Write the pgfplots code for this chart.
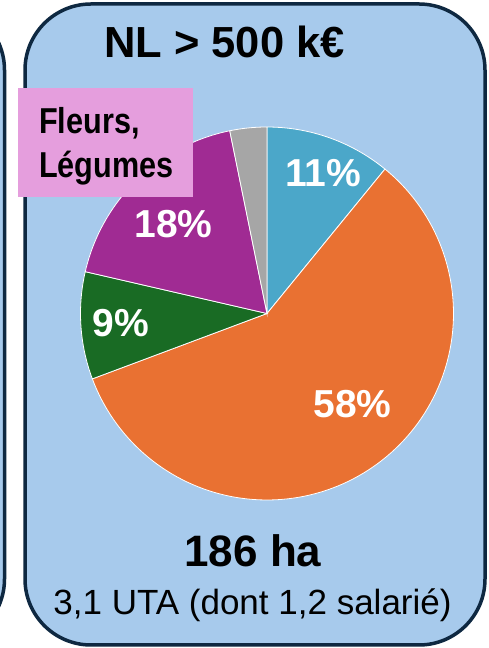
\documentclass[border=0pt]{standalone}
\usepackage{pgfplots}
\pgfplotsset{compat=1.18}
\usepackage{fontspec}
\setmainfont{Liberation Sans}
\newfontfamily\narrowfont{Liberation Sans}[FakeStretch=0.85]
\definecolor{panel}{HTML}{A7CAEC}
\definecolor{border}{HTML}{0E2841}
\definecolor{sblue}{HTML}{4BA7C9}
\definecolor{sorange}{HTML}{E97132}
\definecolor{sgreen}{HTML}{196B24}
\definecolor{spurple}{HTML}{A02B93}
\definecolor{sgray}{HTML}{A6A6A6}
\definecolor{spink}{HTML}{E59EDD}
\begin{document}
\begin{tikzpicture}[x=1pt,y=1pt]
\begin{scope}
\clip (0,0) rectangle (488,648);
\draw[border, line width=3.5pt, fill=panel, rounded corners=66pt] (-400,644) rectangle (4.5,3);
\draw[border, line width=3.5pt, fill=panel, rounded corners=66pt] (25,644) rectangle (485,3);
\end{scope}
\begin{axis}[at={(0,0)}, anchor=south west, x=1pt, y=1pt,
  xmin=0, xmax=488, ymin=0, ymax=648, hide axis, clip=false]
% shares (%), clockwise from top: 10.9, 58.4, 9.3, 18.2, 3.2
\addplot[fill=sblue, draw=white, line width=0.8pt, domain=50.76:90, samples=30, variable=\t]
  ({267+186.5*cos(t)},{334.5+186.5*sin(t)}) -- (267,334.5) -- cycle;
\addplot[fill=sorange, draw=white, line width=0.8pt, domain=-159.48:50.76, samples=120, variable=\t]
  ({267+186.5*cos(t)},{334.5+186.5*sin(t)}) -- (267,334.5) -- cycle;
\addplot[fill=sgreen, draw=white, line width=0.8pt, domain=-192.96:-159.48, samples=30, variable=\t]
  ({267+186.5*cos(t)},{334.5+186.5*sin(t)}) -- (267,334.5) -- cycle;
\addplot[fill=spurple, draw=white, line width=0.8pt, domain=-258.48:-192.96, samples=50, variable=\t]
  ({267+186.5*cos(t)},{334.5+186.5*sin(t)}) -- (267,334.5) -- cycle;
\addplot[fill=sgray, draw=white, line width=0.8pt, domain=-270:-258.48, samples=20, variable=\t]
  ({267+186.5*cos(t)},{334.5+186.5*sin(t)}) -- (267,334.5) -- cycle;
\end{axis}
% percentage labels
\node[anchor=base, text=white, font=\bfseries\fontsize{39}{42}\selectfont, inner sep=0] at (323,461.3) {11\%};
\node[anchor=base, text=white, font=\bfseries\fontsize{39}{42}\selectfont, inner sep=0] at (352.5,230) {58\%};
\node[anchor=base, text=white, font=\bfseries\fontsize{39}{42}\selectfont, inner sep=0] at (121,311) {9\%};
\node[anchor=base, text=white, font=\bfseries\fontsize{39}{42}\selectfont, inner sep=0] at (173.5,410) {18\%};
% pink label box
\fill[spink] (18,451) rectangle (193,560);
\node[anchor=base west, font=\narrowfont\bfseries\fontsize{36}{40}\selectfont, inner sep=0] at (39,514) {Fleurs,};
\node[anchor=base west, font=\narrowfont\bfseries\fontsize{36}{40}\selectfont, inner sep=0] at (39,470) {Légumes};
% titles
\node[anchor=base, font=\bfseries\fontsize{43.5}{47}\selectfont, inner sep=0] at (224.5,590.7) {NL > 500 k€};
\node[anchor=base, font=\bfseries\fontsize{44}{47}\selectfont, inner sep=0] at (253,81) {186 ha};
\node[anchor=base, font=\fontsize{35}{38}\selectfont, inner sep=0] at (252.5,33) {3,1 UTA (dont 1,2 salarié)};
\path[use as bounding box] (0,0) rectangle (488,648);
\end{tikzpicture}
\end{document}
